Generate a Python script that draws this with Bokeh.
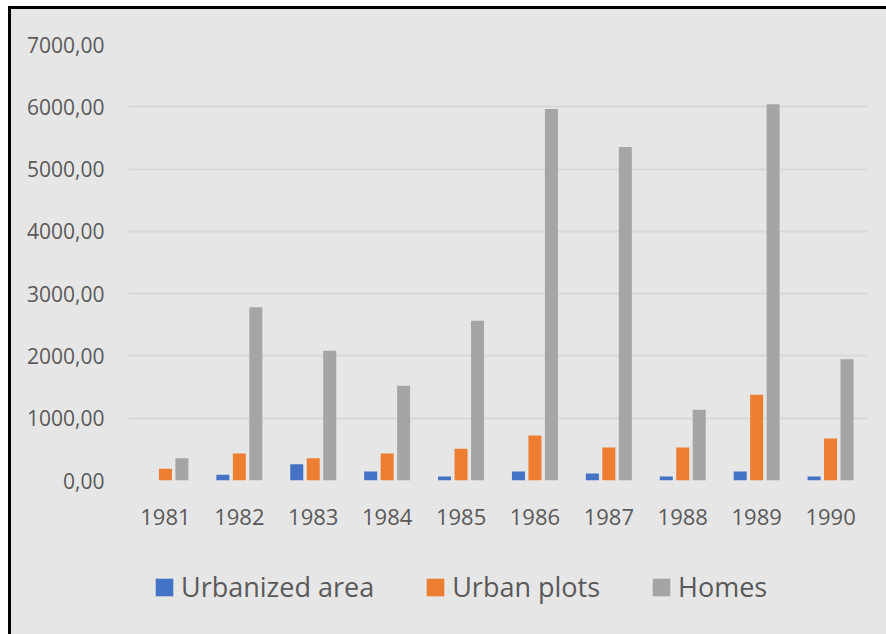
from bokeh.plotting import figure
from bokeh.layouts import column
from bokeh.models import ColumnDataSource, FixedTicker, Legend, LegendItem
from bokeh.transform import dodge
from bokeh.embed import file_html
from bokeh.resources import INLINE

years = ["1981", "1982", "1983", "1984", "1985", "1986", "1987", "1988", "1989", "1990"]
urbanized_area = [0, 91, 262, 144, 64, 144, 112, 64, 144, 64]
urban_plots = [188, 433, 358, 433, 508, 722, 530, 530, 1375, 674]
homes = [358, 2782, 2082, 1520, 2563, 5966, 5356, 1135, 6040, 1945]
y_ticks = [0, 1000, 2000, 3000, 4000, 5000, 6000, 7000]
y_tick_labels = ["0,00", "1000,00", "2000,00", "3000,00", "4000,00", "5000,00", "6000,00", "7000,00"]
series_names = ["Urbanized area", "Urban plots", "Homes"]
series_cols = ["ua", "up", "hm"]
series_colors = ["#4472c4", "#ed7d31", "#a5a5a5"]

FONT = "Open Sans"
BG = "#e6e6e6"
TXT = "#595959"

src = ColumnDataSource(dict(years=years, ua=urbanized_area, up=urban_plots, hm=homes))

p = figure(x_range=years, y_range=(0, 7000), width=875, height=545,
           output_backend="svg", toolbar_location=None,
           min_border_left=117, min_border_right=19, min_border_top=35, min_border_bottom=74)
p.background_fill_color = BG
p.border_fill_color = BG
p.outline_line_color = None

w = 0.176
offsets = [-0.223, 0.0, 0.223]
for col, off, color in zip(series_cols, offsets, series_colors):
    p.vbar(x=dodge("years", off, range=p.x_range), top=col, width=w, source=src,
           fill_color=color, line_color=None)

p.xgrid.grid_line_color = None
p.ygrid.grid_line_color = "#d8d8d8"
p.ygrid.grid_line_width = 2

p.yaxis.ticker = FixedTicker(ticks=y_ticks)
p.yaxis.major_label_overrides = {t: l for t, l in zip(y_ticks, y_tick_labels)}
for ax in (p.xaxis[0], p.yaxis[0]):
    ax.axis_line_color = None
    ax.major_tick_line_color = None
    ax.minor_tick_line_color = None
    ax.major_label_text_font = FONT
    ax.major_label_text_color = TXT
p.xaxis.major_label_text_font_size = "22px"
p.yaxis.major_label_text_font_size = "21px"
p.yaxis.major_label_standoff = 18
p.xaxis.major_label_standoff = 22

# legend strip below the chart (frame aligned with the chart's frame by the column)
lg = figure(width=875, height=80, x_range=years, y_range=(0, 1),
            output_backend="svg", toolbar_location=None,
            x_axis_type=None, y_axis_type=None, min_border=0)
lg.background_fill_color = BG
lg.border_fill_color = BG
lg.outline_line_color = None
lg.grid.grid_line_color = None
items = []
for name, col, color in zip(series_names, series_cols, series_colors):
    r = lg.vbar(x="years", top=col, width=w, source=src, fill_color=color,
                line_color=None, visible=False)
    items.append(LegendItem(label=name, renderers=[r]))

legend = Legend(items=items, orientation="horizontal", location=(25, 29),
                padding=0, margin=0, spacing=50, label_standoff=6,
                glyph_width=22, glyph_height=22,
                inactive_fill_alpha=0,
                background_fill_alpha=0, border_line_color=None,
                label_text_font=FONT, label_text_font_size="27px",
                label_text_color=TXT)
lg.add_layout(legend, "center")

layout = column(p, lg, spacing=0)
layout.styles = {"margin-left": "8px", "margin-top": "6px",
                 "border-left": "3px solid #000", "border-top": "3px solid #000",
                 "background-color": BG}

open("out.html", "w").write(file_html(layout, INLINE))
